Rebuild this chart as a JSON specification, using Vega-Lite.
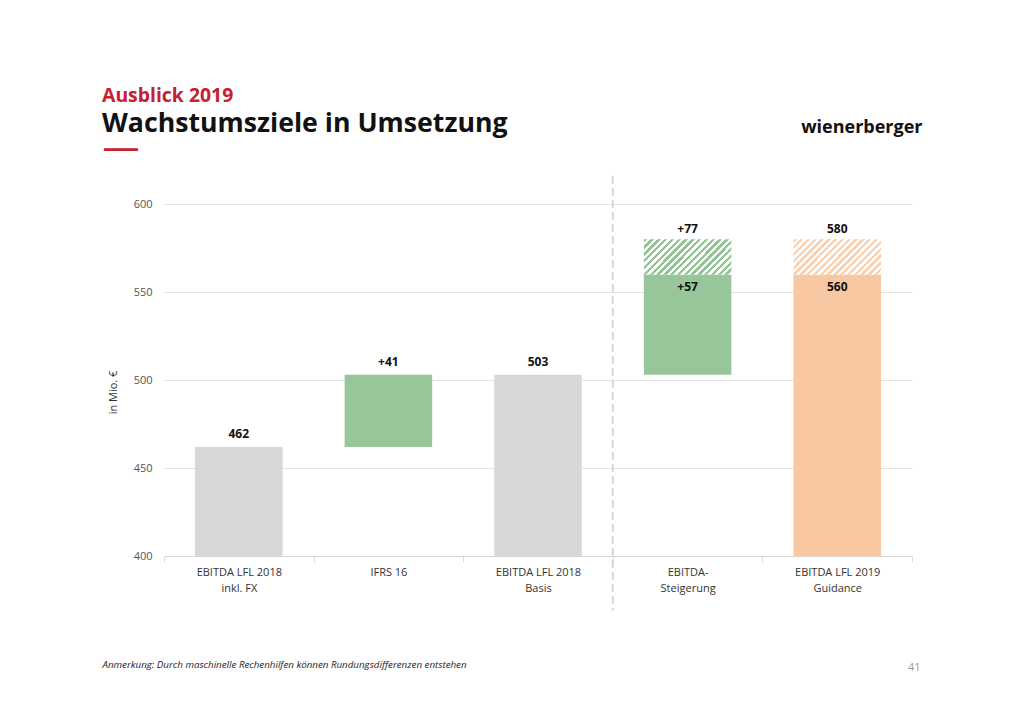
{
  "$schema": "https://vega.github.io/schema/vega-lite/v6.json",
  "width": 748,
  "height": 352,
  "autosize": {"type": "none"},
  "padding": {"left": 164, "top": 204, "right": 112, "bottom": 168},
  "background": "white",
  "config": {
    "view": {"stroke": null},
    "font": "Open Sans"
  },
  "title": {
    "text": "Ausblick 2019",
    "subtitle": "Wachstumsziele in Umsetzung",
    "anchor": "start",
    "frame": "group",
    "dx": -62,
    "offset": -21,
    "font": "Open Sans",
    "fontSize": 19.4,
    "fontWeight": "bold",
    "color": "#c8202f",
    "subtitleFont": "Open Sans",
    "subtitleFontSize": 26.7,
    "subtitleFontWeight": "bold",
    "subtitleColor": "#111111",
    "subtitlePadding": 5
  },
  "data": {
    "values": [
      {"cat": "EBITDA LFL 2018|inkl. FX", "part": "base", "y0": 400, "y1": 462, "top": "462"},
      {"cat": "IFRS 16", "part": "delta", "y0": 462, "y1": 503, "top": "+41"},
      {"cat": "EBITDA LFL 2018|Basis", "part": "base", "y0": 400, "y1": 503, "top": "503"},
      {"cat": "EBITDA-|Steigerung", "part": "delta", "y0": 503, "y1": 560, "inner": "+57"},
      {"cat": "EBITDA-|Steigerung", "part": "delta_range", "y0": 560, "y1": 580, "top": "+77"},
      {"cat": "EBITDA LFL 2019|Guidance", "part": "target", "y0": 400, "y1": 560, "inner": "560"},
      {"cat": "EBITDA LFL 2019|Guidance", "part": "target_range", "y0": 560, "y1": 580, "top": "580"}
    ]
  },
  "resolve": {"axis": {"x": "independent", "y": "independent"}},
  "layer": [
    {
      "transform": [{"filter": {"field": "part", "oneOf": ["base", "delta", "target"]}}],
      "mark": {"type": "bar", "width": {"band": 0.585}},
      "encoding": {
        "x": {
          "field": "cat",
          "type": "nominal",
          "sort": null,
          "scale": {
            "domain": ["EBITDA LFL 2018|inkl. FX", "IFRS 16", "EBITDA LFL 2018|Basis", "EBITDA-|Steigerung", "EBITDA LFL 2019|Guidance"],
            "paddingInner": 0,
            "paddingOuter": 0
          },
          "axis": {
            "orient": "bottom",
            "labelExpr": "split(datum.label, '|')",
            "labelAngle": 0,
            "labelFontSize": 11,
            "labelColor": "#333333",
            "labelPadding": 4,
            "labelLineHeight": 16,
            "tickBand": "extent",
            "tickSize": 6,
            "tickColor": "#dcdcdc",
            "domainColor": "#d4d4d4",
            "grid": false,
            "title": "Anmerkung: Durch maschinelle Rechenhilfen können Rundungsdifferenzen entstehen",
            "titleFontStyle": "italic",
            "titleFontWeight": "normal",
            "titleFontSize": 9.75,
            "titleColor": "#222222",
            "titleX": -62,
            "titleY": 108,
            "titleAlign": "left",
            "titleBaseline": "middle"
          }
        },
        "y": {
          "field": "y0",
          "type": "quantitative",
          "scale": {"domain": [400, 600], "nice": false, "zero": false},
          "axis": {
            "orient": "left",
            "values": [400, 450, 500, 550, 600],
            "ticks": false,
            "domain": false,
            "gridColor": "#e2e2e2",
            "labelFontSize": 11,
            "labelColor": "#555555",
            "labelPadding": 12,
            "title": "in Mio. €",
            "titleFontSize": 11,
            "titleFontWeight": "normal",
            "titleColor": "#333333",
            "titleX": -51,
            "titleY": 188,
            "titleAlign": "center",
            "titleBaseline": "middle"
          }
        },
        "y2": {"field": "y1"},
        "color": {
          "field": "part",
          "type": "nominal",
          "scale": {"domain": ["base", "delta", "target"], "range": ["#d7d7d7", "#96c699", "#f7c8a1"]},
          "legend": null
        }
      }
    },
    {
      "transform": [{"filter": {"field": "part", "equal": "delta_range"}}],
      "mark": {
        "type": "bar",
        "width": {"band": 0.585},
        "fill": {
          "gradient": "linear", "x1": 0, "y1": 0, "x2": 1.207, "y2": 0.483,
          "stops": [
            {"offset": 0, "color": "#92c495"}, {"offset": 0.0278, "color": "#92c495"}, {"offset": 0.0278, "color": "#ffffff"}, {"offset": 0.0556, "color": "#ffffff"},
            {"offset": 0.0556, "color": "#92c495"}, {"offset": 0.0833, "color": "#92c495"}, {"offset": 0.0833, "color": "#ffffff"}, {"offset": 0.1111, "color": "#ffffff"},
            {"offset": 0.1111, "color": "#92c495"}, {"offset": 0.1389, "color": "#92c495"}, {"offset": 0.1389, "color": "#ffffff"}, {"offset": 0.1667, "color": "#ffffff"},
            {"offset": 0.1667, "color": "#92c495"}, {"offset": 0.1944, "color": "#92c495"}, {"offset": 0.1944, "color": "#ffffff"}, {"offset": 0.2222, "color": "#ffffff"},
            {"offset": 0.2222, "color": "#92c495"}, {"offset": 0.25, "color": "#92c495"}, {"offset": 0.25, "color": "#ffffff"}, {"offset": 0.2778, "color": "#ffffff"},
            {"offset": 0.2778, "color": "#92c495"}, {"offset": 0.3056, "color": "#92c495"}, {"offset": 0.3056, "color": "#ffffff"}, {"offset": 0.3333, "color": "#ffffff"},
            {"offset": 0.3333, "color": "#92c495"}, {"offset": 0.3611, "color": "#92c495"}, {"offset": 0.3611, "color": "#ffffff"}, {"offset": 0.3889, "color": "#ffffff"},
            {"offset": 0.3889, "color": "#92c495"}, {"offset": 0.4167, "color": "#92c495"}, {"offset": 0.4167, "color": "#ffffff"}, {"offset": 0.4444, "color": "#ffffff"},
            {"offset": 0.4444, "color": "#92c495"}, {"offset": 0.4722, "color": "#92c495"}, {"offset": 0.4722, "color": "#ffffff"}, {"offset": 0.5, "color": "#ffffff"},
            {"offset": 0.5, "color": "#92c495"}, {"offset": 0.5278, "color": "#92c495"}, {"offset": 0.5278, "color": "#ffffff"}, {"offset": 0.5556, "color": "#ffffff"},
            {"offset": 0.5556, "color": "#92c495"}, {"offset": 0.5833, "color": "#92c495"}, {"offset": 0.5833, "color": "#ffffff"}, {"offset": 0.6111, "color": "#ffffff"},
            {"offset": 0.6111, "color": "#92c495"}, {"offset": 0.6389, "color": "#92c495"}, {"offset": 0.6389, "color": "#ffffff"}, {"offset": 0.6667, "color": "#ffffff"},
            {"offset": 0.6667, "color": "#92c495"}, {"offset": 0.6944, "color": "#92c495"}, {"offset": 0.6944, "color": "#ffffff"}, {"offset": 0.7222, "color": "#ffffff"},
            {"offset": 0.7222, "color": "#92c495"}, {"offset": 0.75, "color": "#92c495"}, {"offset": 0.75, "color": "#ffffff"}, {"offset": 0.7778, "color": "#ffffff"},
            {"offset": 0.7778, "color": "#92c495"}, {"offset": 0.8056, "color": "#92c495"}, {"offset": 0.8056, "color": "#ffffff"}, {"offset": 0.8333, "color": "#ffffff"},
            {"offset": 0.8333, "color": "#92c495"}, {"offset": 0.8611, "color": "#92c495"}, {"offset": 0.8611, "color": "#ffffff"}, {"offset": 0.8889, "color": "#ffffff"},
            {"offset": 0.8889, "color": "#92c495"}, {"offset": 0.9167, "color": "#92c495"}, {"offset": 0.9167, "color": "#ffffff"}, {"offset": 0.9444, "color": "#ffffff"},
            {"offset": 0.9444, "color": "#92c495"}, {"offset": 0.9722, "color": "#92c495"}, {"offset": 0.9722, "color": "#ffffff"}, {"offset": 1, "color": "#ffffff"}
          ]
        }
      },
      "encoding": {
        "x": {"field": "cat", "type": "nominal", "sort": null, "axis": null},
        "y": {"field": "y0", "type": "quantitative", "axis": null},
        "y2": {"field": "y1"}
      }
    },
    {
      "transform": [{"filter": {"field": "part", "equal": "target_range"}}],
      "mark": {
        "type": "bar",
        "width": {"band": 0.585},
        "fill": {
          "gradient": "linear", "x1": 0, "y1": 0, "x2": 1.207, "y2": 0.483,
          "stops": [
            {"offset": 0, "color": "#f7d1b1"}, {"offset": 0.0278, "color": "#f7d1b1"}, {"offset": 0.0278, "color": "#ffffff"}, {"offset": 0.0556, "color": "#ffffff"},
            {"offset": 0.0556, "color": "#f7d1b1"}, {"offset": 0.0833, "color": "#f7d1b1"}, {"offset": 0.0833, "color": "#ffffff"}, {"offset": 0.1111, "color": "#ffffff"},
            {"offset": 0.1111, "color": "#f7d1b1"}, {"offset": 0.1389, "color": "#f7d1b1"}, {"offset": 0.1389, "color": "#ffffff"}, {"offset": 0.1667, "color": "#ffffff"},
            {"offset": 0.1667, "color": "#f7d1b1"}, {"offset": 0.1944, "color": "#f7d1b1"}, {"offset": 0.1944, "color": "#ffffff"}, {"offset": 0.2222, "color": "#ffffff"},
            {"offset": 0.2222, "color": "#f7d1b1"}, {"offset": 0.25, "color": "#f7d1b1"}, {"offset": 0.25, "color": "#ffffff"}, {"offset": 0.2778, "color": "#ffffff"},
            {"offset": 0.2778, "color": "#f7d1b1"}, {"offset": 0.3056, "color": "#f7d1b1"}, {"offset": 0.3056, "color": "#ffffff"}, {"offset": 0.3333, "color": "#ffffff"},
            {"offset": 0.3333, "color": "#f7d1b1"}, {"offset": 0.3611, "color": "#f7d1b1"}, {"offset": 0.3611, "color": "#ffffff"}, {"offset": 0.3889, "color": "#ffffff"},
            {"offset": 0.3889, "color": "#f7d1b1"}, {"offset": 0.4167, "color": "#f7d1b1"}, {"offset": 0.4167, "color": "#ffffff"}, {"offset": 0.4444, "color": "#ffffff"},
            {"offset": 0.4444, "color": "#f7d1b1"}, {"offset": 0.4722, "color": "#f7d1b1"}, {"offset": 0.4722, "color": "#ffffff"}, {"offset": 0.5, "color": "#ffffff"},
            {"offset": 0.5, "color": "#f7d1b1"}, {"offset": 0.5278, "color": "#f7d1b1"}, {"offset": 0.5278, "color": "#ffffff"}, {"offset": 0.5556, "color": "#ffffff"},
            {"offset": 0.5556, "color": "#f7d1b1"}, {"offset": 0.5833, "color": "#f7d1b1"}, {"offset": 0.5833, "color": "#ffffff"}, {"offset": 0.6111, "color": "#ffffff"},
            {"offset": 0.6111, "color": "#f7d1b1"}, {"offset": 0.6389, "color": "#f7d1b1"}, {"offset": 0.6389, "color": "#ffffff"}, {"offset": 0.6667, "color": "#ffffff"},
            {"offset": 0.6667, "color": "#f7d1b1"}, {"offset": 0.6944, "color": "#f7d1b1"}, {"offset": 0.6944, "color": "#ffffff"}, {"offset": 0.7222, "color": "#ffffff"},
            {"offset": 0.7222, "color": "#f7d1b1"}, {"offset": 0.75, "color": "#f7d1b1"}, {"offset": 0.75, "color": "#ffffff"}, {"offset": 0.7778, "color": "#ffffff"},
            {"offset": 0.7778, "color": "#f7d1b1"}, {"offset": 0.8056, "color": "#f7d1b1"}, {"offset": 0.8056, "color": "#ffffff"}, {"offset": 0.8333, "color": "#ffffff"},
            {"offset": 0.8333, "color": "#f7d1b1"}, {"offset": 0.8611, "color": "#f7d1b1"}, {"offset": 0.8611, "color": "#ffffff"}, {"offset": 0.8889, "color": "#ffffff"},
            {"offset": 0.8889, "color": "#f7d1b1"}, {"offset": 0.9167, "color": "#f7d1b1"}, {"offset": 0.9167, "color": "#ffffff"}, {"offset": 0.9444, "color": "#ffffff"},
            {"offset": 0.9444, "color": "#f7d1b1"}, {"offset": 0.9722, "color": "#f7d1b1"}, {"offset": 0.9722, "color": "#ffffff"}, {"offset": 1, "color": "#ffffff"}
          ]
        }
      },
      "encoding": {
        "x": {"field": "cat", "type": "nominal", "sort": null, "axis": null},
        "y": {"field": "y0", "type": "quantitative", "axis": null},
        "y2": {"field": "y1"}
      }
    },
    {
      "data": {"values": [{"cat": "EBITDA-|Steigerung", "top": 616, "bottom": 369}]},
      "mark": {"type": "rule", "color": "#d6d6d6", "strokeWidth": 2, "strokeDash": [8, 4]},
      "encoding": {
        "x": {
          "field": "cat", "type": "nominal", "sort": null, "bandPosition": 0,
          "axis": {
            "orient": "top", "labels": false, "ticks": false, "domain": false, "grid": false,
            "title": "wienerberger",
            "titleFont": "Open Sans", "titleFontSize": 18, "titleFontWeight": "bold", "titleColor": "#111111",
            "titleX": 758, "titleY": -72, "titleAlign": "right", "titleBaseline": "alphabetic"
          }
        },
        "y": {
          "field": "top", "type": "quantitative",
          "axis": {
            "orient": "right", "labels": false, "ticks": false, "domain": false, "grid": false,
            "title": "41", "titleAngle": 0, "titleFontSize": 11, "titleFontWeight": "normal", "titleColor": "#9a9a9a",
            "titleX": 8, "titleY": 463, "titleAlign": "right", "titleBaseline": "middle"
          }
        },
        "y2": {"field": "bottom"}
      }
    },
    {
      "transform": [{"filter": "isValid(datum.top) && indexof(datum.part, 'range') < 0"}],
      "mark": {"type": "text", "baseline": "middle", "dy": -12.5, "fontSize": 12, "fontWeight": "bold", "color": "#111111"},
      "encoding": {
        "x": {"field": "cat", "type": "nominal", "sort": null, "axis": null},
        "y": {
          "field": "y1", "type": "quantitative",
          "axis": {
            "orient": "left", "labels": false, "ticks": false, "domain": false, "grid": false,
            "title": "—", "titleAngle": 0, "titleFont": "Open Sans", "titleFontSize": 37, "titleFontWeight": "normal", "titleColor": "#c8202f",
            "titleX": -62, "titleY": -56, "titleAlign": "left", "titleBaseline": "middle"
          }
        },
        "text": {"field": "top"}
      }
    },
    {
      "transform": [{"filter": "isValid(datum.top) && indexof(datum.part, 'range') >= 0"}],
      "mark": {"type": "text", "baseline": "middle", "dy": -10, "fontSize": 12, "fontWeight": "bold", "color": "#111111"},
      "encoding": {
        "x": {"field": "cat", "type": "nominal", "sort": null, "axis": null},
        "y": {"field": "y1", "type": "quantitative", "axis": null},
        "text": {"field": "top"}
      }
    },
    {
      "transform": [{"filter": "isValid(datum.inner)"}],
      "mark": {"type": "text", "baseline": "middle", "dy": 13, "fontSize": 12, "fontWeight": "bold", "color": "#111111"},
      "encoding": {
        "x": {"field": "cat", "type": "nominal", "sort": null, "axis": null},
        "y": {"field": "y1", "type": "quantitative", "axis": null},
        "text": {"field": "inner"}
      }
    }
  ]
}
